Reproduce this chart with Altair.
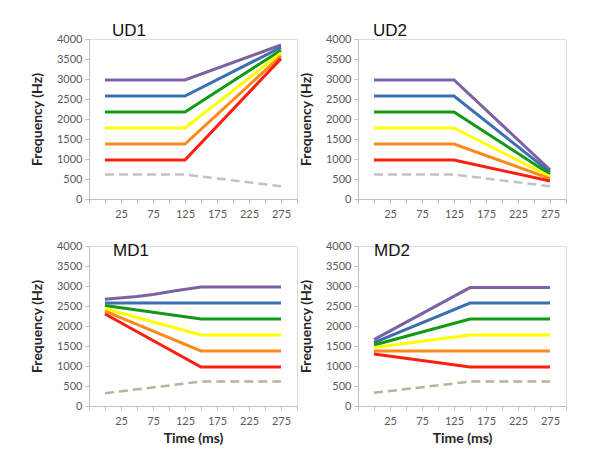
import altair as alt
import pandas as pd

# ---------------- data ----------------
SERIES = ["purple", "blue", "green", "yellow", "orange", "red", "f1"]
COLORS = {
    "purple": "#7d61a3",
    "blue": "#3b6fb1",
    "green": "#119a11",
    "yellow": "#ffff00",
    "orange": "#ff8a1c",
    "red": "#ff1e0e",
}
DASH_COLOR_UD = "#c2c2c2"
DASH_COLOR_MD = "#b6b49b"

TIME_UD = [0, 125, 275]
TIME_MD = [0, 150, 275]
TIME_MD1_PURPLE = [0, 50, 75, 110, 150, 275]

UD1_PURPLE = [2975, 2975, 3850]
UD1_BLUE = [2575, 2575, 3790]
UD1_GREEN = [2175, 2175, 3720]
UD1_YELLOW = [1775, 1775, 3650]
UD1_ORANGE = [1375, 1375, 3580]
UD1_RED = [975, 975, 3510]
UD1_F1 = [610, 610, 320]

UD2_PURPLE = [2975, 2975, 730]
UD2_BLUE = [2575, 2575, 670]
UD2_GREEN = [2175, 2175, 620]
UD2_YELLOW = [1775, 1775, 560]
UD2_ORANGE = [1375, 1375, 510]
UD2_RED = [975, 975, 450]
UD2_F1 = [610, 610, 320]

MD1_PURPLE = [2670, 2740, 2790, 2880, 2975, 2975]
MD1_BLUE = [2575, 2575, 2575]
MD1_GREEN = [2510, 2175, 2175]
MD1_YELLOW = [2430, 1775, 1775]
MD1_ORANGE = [2370, 1375, 1375]
MD1_RED = [2300, 975, 975]
MD1_F1 = [320, 610, 610]

MD2_PURPLE = [1660, 2960, 2960]
MD2_BLUE = [1585, 2575, 2575]
MD2_GREEN = [1525, 2175, 2175]
MD2_YELLOW = [1460, 1775, 1775]
MD2_ORANGE = [1375, 1375, 1375]
MD2_RED = [1300, 975, 975]
MD2_F1 = [330, 610, 610]

X_TICKS = [-25, 0, 25, 50, 75, 100, 125, 150, 175, 200, 225, 250, 275, 300]
Y_TICKS = [0, 500, 1000, 1500, 2000, 2500, 3000, 3500, 4000]


def frame(times, lines, f1_times, f1_vals, dash_color, purple_times=None):
    rows = []
    for name, vals in lines.items():
        ts = purple_times if (name == "purple" and purple_times) else times
        for t, v in zip(ts, vals):
            rows.append({"series": name, "time": t, "freq": v,
                         "color": COLORS[name], "kind": "solid"})
    for t, v in zip(f1_times, f1_vals):
        rows.append({"series": "f1", "time": t, "freq": v,
                     "color": dash_color, "kind": "dashed"})
    return pd.DataFrame(rows)


df_ud1 = frame(TIME_UD, {"purple": UD1_PURPLE, "blue": UD1_BLUE, "green": UD1_GREEN,
                         "yellow": UD1_YELLOW, "orange": UD1_ORANGE, "red": UD1_RED},
               TIME_UD, UD1_F1, DASH_COLOR_UD)
df_ud2 = frame(TIME_UD, {"purple": UD2_PURPLE, "blue": UD2_BLUE, "green": UD2_GREEN,
                         "yellow": UD2_YELLOW, "orange": UD2_ORANGE, "red": UD2_RED},
               TIME_UD, UD2_F1, DASH_COLOR_UD)
df_md1 = frame(TIME_MD, {"purple": MD1_PURPLE, "blue": MD1_BLUE, "green": MD1_GREEN,
                         "yellow": MD1_YELLOW, "orange": MD1_ORANGE, "red": MD1_RED},
               TIME_MD, MD1_F1, DASH_COLOR_MD, purple_times=TIME_MD1_PURPLE)
df_md2 = frame(TIME_MD, {"purple": MD2_PURPLE, "blue": MD2_BLUE, "green": MD2_GREEN,
                         "yellow": MD2_YELLOW, "orange": MD2_ORANGE, "red": MD2_RED},
               TIME_MD, MD2_F1, DASH_COLOR_MD)

LABEL_FONT = "Lato"
AXIS_GRAY = "#bfbfbf"


def panel(df, title, dx, offset, show_xtitle):
    x_axis_kwargs = dict(
        values=X_TICKS,
        labelExpr="datum.value > 0 && (datum.value - 25) % 50 == 0 ? datum.label : ''",
        grid=False, domainColor=AXIS_GRAY, tickColor=AXIS_GRAY, tickSize=4,
        labelFont=LABEL_FONT, labelFontSize=11, labelColor="#595959",
        labelPadding=5, labelFlush=False, labelOverlap=False,
        titleFont=LABEL_FONT, titleFontSize=14, titleFontWeight="bold",
        titleColor="#262626", titlePadding=5,
    )
    x_axis_kwargs["title"] = "Time (ms)" if show_xtitle else None
    x = alt.X("time:Q", scale=alt.Scale(domain=[-25, 300], nice=False, zero=False),
              axis=alt.Axis(**x_axis_kwargs))
    y = alt.Y("freq:Q", scale=alt.Scale(domain=[0, 4000], nice=False),
              axis=alt.Axis(values=Y_TICKS, format="d", title="Frequency (Hz)", grid=False,
                            domainColor=AXIS_GRAY, tickColor=AXIS_GRAY, tickSize=4,
                            labelFont=LABEL_FONT, labelFontSize=11, labelColor="#595959",
                            labelPadding=3,
                            titleFont=LABEL_FONT, titleFontSize=14, titleFontWeight="bold",
                            titleColor="#262626", titlePadding=12))
    base = alt.Chart(df)
    dashed = base.transform_filter(alt.datum.kind == "dashed").mark_line(
        strokeWidth=2.5, strokeDash=[9, 5]).encode(
        x=x, y=y, color=alt.Color("color:N", scale=None), detail="series:N")
    solid = base.transform_filter(alt.datum.kind == "solid").mark_line(
        strokeWidth=3).encode(
        x=x, y=y, color=alt.Color("color:N", scale=None), detail="series:N",
        order=alt.Order("time:Q"))
    return alt.layer(dashed, solid).properties(
        width=208, height=160,
        title=alt.TitleParams(title, anchor="start", frame="group", dx=dx,
                              offset=offset, fontSize=17, font="Liberation Sans",
                              fontWeight="normal", color="#111111",
                              baseline="alphabetic"),
    )


chart = alt.concat(
    panel(df_ud1, "UD1", 23, -20, False),
    panel(df_ud2, "UD2", 15, -20, False),
    panel(df_md1, "MD1", 24, -33, True),
    panel(df_md2, "MD2", 16, -33, True),
    columns=2,
    spacing={"row": 47, "column": 61},
    bounds="flush",
).properties(
    padding={"left": 21, "top": 13, "right": 5, "bottom": 5},
).configure_view(stroke=None).configure(background="white")

chart.save("out.html", embed_options={"renderer": "svg", "actions": False})
